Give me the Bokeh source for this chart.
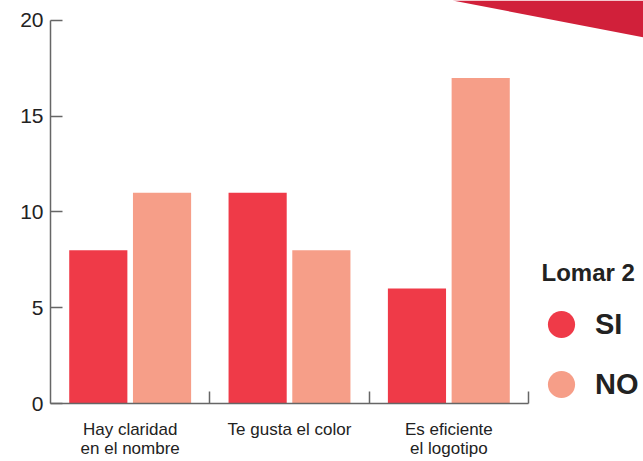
from bokeh.plotting import figure
from bokeh.models import (FixedTicker, Legend, LegendItem, Label, Range1d)
from bokeh.embed import file_html
from bokeh.resources import INLINE

categories = ["Hay claridad\nen el nombre", "Te gusta el color", "Es eficiente\nel logotipo"]
si_values = [8, 11, 6]
no_values = [11, 8, 17]
y_ticks = [0, 5, 10, 15, 20]
y_max = 20
legend_title = "Lomar 2"
series_names = ["SI", "NO"]

SI_COLOR = "#ef3a48"
NO_COLOR = "#f69e88"
ACCENT = "#d1203a"
FONT = "Liberation Sans"
TEXT = "#222222"
AXIS = "#666666"

# layout (pixels)
W, H = 643, 461
LEFT, BOTTOM = 50, 57
AXIS_RIGHT_PX = 528     # where the x axis ends
AXIS_TOP_PX = 20        # where y = y_max sits
frame_w = W - LEFT
frame_h = H - BOTTOM
n = len(categories)
unit_x = (AXIS_RIGHT_PX - LEFT) / n
unit_y = (frame_h - AXIS_TOP_PX) / y_max
x_end = frame_w / unit_x
y_end = frame_h / unit_y

def px_x(px):
    return (px - LEFT) / unit_x

def px_y(py):
    return (frame_h - py) / unit_y

centers = [i + 0.5 for i in range(n)]

p = figure(width=W, height=H, output_backend="svg", toolbar_location=None,
           x_range=Range1d(0, x_end), y_range=Range1d(0, y_end),
           min_border_left=LEFT, min_border_right=0, min_border_top=0, min_border_bottom=BOTTOM)
p.outline_line_color = None
p.xgrid.visible = False
p.ygrid.visible = False
p.background_fill_color = "white"
p.border_fill_color = "white"

# decorative red band at top right
p.patch(x=[px_x(452), px_x(W), px_x(W)], y=[px_y(0), px_y(0), px_y(37)],
        fill_color=ACCENT, line_color=None)

p.vbar(x=[c - 0.2 for c in centers], top=si_values, width=0.365,
       fill_color=SI_COLOR, line_color=None)
p.vbar(x=[c + 0.2 for c in centers], top=no_values, width=0.365,
       fill_color=NO_COLOR, line_color=None)

# axes
p.yaxis.bounds = (0, y_max)
p.yaxis.ticker = FixedTicker(ticks=y_ticks)
p.yaxis.axis_line_color = AXIS
p.yaxis.axis_line_width = 1.5
p.yaxis.major_tick_line_color = AXIS
p.yaxis.major_tick_line_width = 1.5
p.yaxis.major_tick_in = 12
p.yaxis.major_tick_out = 0
p.yaxis.minor_tick_line_color = None
p.yaxis.major_label_text_font = FONT
p.yaxis.major_label_text_font_size = "21px"
p.yaxis.major_label_text_color = TEXT
p.yaxis.major_label_standoff = 7

p.xaxis.bounds = (0, n)
p.xaxis.ticker = FixedTicker(ticks=centers, minor_ticks=list(range(1, n + 1)))
p.xaxis.major_label_overrides = {c: lab for c, lab in zip(centers, categories)}
p.xaxis.axis_line_color = AXIS
p.xaxis.axis_line_width = 1.5
p.xaxis.major_tick_line_color = None
p.xaxis.minor_tick_line_color = AXIS
p.xaxis.minor_tick_line_width = 1.5
p.xaxis.minor_tick_in = 12
p.xaxis.minor_tick_out = 0
p.xaxis.major_label_text_font = FONT
p.xaxis.major_label_text_font_size = "17px"
p.xaxis.major_label_text_color = TEXT
p.xaxis.major_label_standoff = 10
p.xaxis.major_label_text_line_height = 1.05

# legend
p.add_layout(Label(x=px_x(541), y=px_y(273), text=legend_title,
                   text_font=FONT, text_font_size="24px", text_font_style="bold",
                   text_color=TEXT, text_align="left", text_baseline="middle"))

nan = float("nan")
series_colors = [SI_COLOR, NO_COLOR]
legend_bottoms = [45, -15]   # screen offsets of each legend entry from frame bottom
for name, color, bottom in zip(series_names, series_colors, legend_bottoms):
    r = p.scatter(x=[nan], y=[nan], marker="circle", size=27,
                  fill_color=color, line_color=None)
    p.add_layout(Legend(items=[LegendItem(label=name, renderers=[r])],
                        location=(477, bottom),
                        glyph_width=68, glyph_height=68, label_standoff=0, spacing=0,
                        label_text_font=FONT, label_text_font_size="29px",
                        label_text_font_style="bold", label_text_color=TEXT,
                        border_line_color=None, background_fill_alpha=0,
                        padding=0, margin=0))

open("out.html", "w").write(file_html(p, INLINE))
